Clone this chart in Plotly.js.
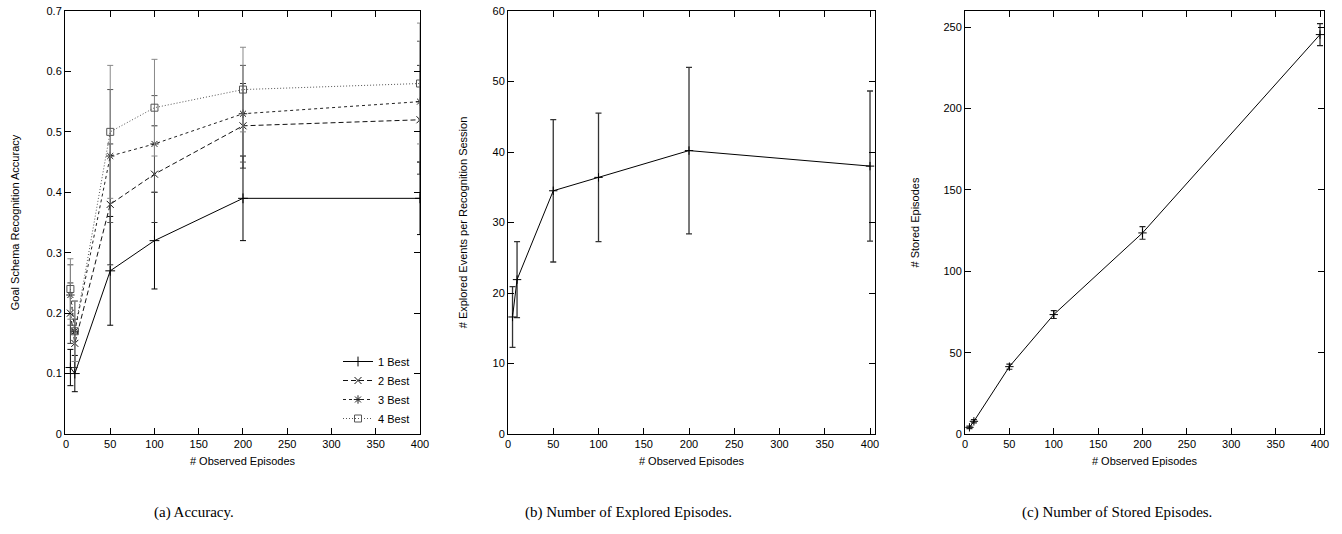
<!DOCTYPE html>
<html>
<head>
<meta charset="utf-8">
<script src="https://cdn.plot.ly/plotly-3.0.1.min.js"></script>
<style>html,body{margin:0;padding:0;background:#fff;}#chart{width:1342px;height:534px;}</style>
</head>
<body>
<div id="chart"></div>
<script>
// ---- data ----
const episodes = [5, 10, 50, 100, 200, 400];

const best1 = [0.11, 0.10, 0.27, 0.32, 0.39, 0.39];
const best1Err = [0.03, 0.03, 0.09, 0.08, 0.07, 0.06];
const best2 = [0.20, 0.15, 0.38, 0.43, 0.51, 0.52];
const best2Err = [0.05, 0.04, 0.10, 0.08, 0.07, 0.09];
const best3 = [0.23, 0.17, 0.46, 0.48, 0.53, 0.55];
const best3Err = [0.05, 0.05, 0.11, 0.08, 0.08, 0.10];
const best4 = [0.24, 0.17, 0.50, 0.54, 0.57, 0.58];
const best4Err = [0.05, 0.05, 0.11, 0.08, 0.07, 0.10];
const seriesNames = ["1 Best", "2 Best", "3 Best", "4 Best"];

const explored = [16.6, 21.9, 34.5, 36.4, 40.2, 38.0];
const exploredErr = [4.3, 5.4, 10.1, 9.1, 11.8, 10.65];

const stored = [4.1, 7.8, 41.4, 73.4, 123.6, 245.5];
const storedErr = [0.8, 1.0, 1.6, 2.4, 3.9, 6.8];

const captions = ["(a) Accuracy.", "(b) Number of Explored Episodes.", "(c) Number of Stored Episodes."];
const yTitles = ["Goal Schema Recognition Accuracy", "# Explored Events per Recognition Session", "# Stored Episodes"];
const xTitle = "# Observed Episodes";

// ---- styles ----
const W = 1342, H = 534;
const px = v => v / W;
const py = v => 1 - v / H;
const font = {family: "Liberation Sans, Arial, sans-serif", size: 11, color: "#000"};

const accSeries = [best1, best2, best3, best4];
const accErr = [best1Err, best2Err, best3Err, best4Err];
const accDash = ["solid", "5px,3px", "3px,3px", "1px,2px"];
const accColor = ["#000", "#111", "#222", "#555"];
const accErrColor = ["#000", "#333", "#555", "#888"];
const accSymbol = ["cross-thin-open", "x-thin-open", "asterisk-open", "square-open"];

const traces = [];
accSeries.forEach((ys, i) => {
  traces.push({
    type: "scatter", mode: "lines+markers", x: episodes, y: ys, name: seriesNames[i],
    xaxis: "x", yaxis: "y",
    line: {color: accColor[i], width: 1, dash: accDash[i]},
    marker: {symbol: accSymbol[i], size: 7, color: accColor[i], line: {color: accColor[i], width: 1}},
    error_y: {type: "data", array: accErr[i], visible: true, color: accErrColor[i], thickness: 1, width: 3}
  });
});
traces.push({
  type: "scatter", mode: "lines+markers", x: episodes, y: explored, showlegend: false,
  xaxis: "x2", yaxis: "y2",
  line: {color: "#000", width: 1},
  marker: {symbol: "cross-thin-open", size: 6, color: "#000", line: {color: "#000", width: 1}},
  error_y: {type: "data", array: exploredErr, visible: true, color: "#333", thickness: 1.3, width: 3}
});
traces.push({
  type: "scatter", mode: "lines+markers", x: episodes, y: stored, showlegend: false,
  xaxis: "x3", yaxis: "y3",
  line: {color: "#000", width: 1},
  marker: {symbol: "cross-thin-open", size: 6, color: "#000", line: {color: "#000", width: 1}},
  error_y: {type: "data", array: storedErr, visible: true, color: "#222", thickness: 1.2, width: 3}
});

function xAxis(dom, range, anchor) {
  return {
    domain: dom, range: range, anchor: anchor, dtick: 50, tick0: 0,
    ticks: "inside", ticklen: 6, tickcolor: "#000", mirror: "allticks",
    showline: true, linecolor: "#000", linewidth: 1, showgrid: false, zeroline: false,
    tickfont: font, title: {text: xTitle, font: font, standoff: 8}
  };
}
function yAxis(dom, range, dtick, anchor, title, standoff) {
  return {
    domain: dom, range: range, anchor: anchor, dtick: dtick, tick0: 0,
    ticks: "inside", ticklen: 6, tickcolor: "#000", mirror: "allticks",
    showline: true, linecolor: "#000", linewidth: 1, showgrid: false, zeroline: false,
    tickfont: font, title: {text: title, font: font, standoff: standoff}
  };
}
const yDom = [py(434), py(11)];
const layout = {
  width: W, height: H,
  margin: {l: 0, r: 0, t: 0, b: 0},
  paper_bgcolor: "#fff", plot_bgcolor: "#fff",
  font: font,
  showlegend: true,
  legend: {
    x: px(338), y: py(433), xanchor: "left", yanchor: "bottom",
    bgcolor: "rgba(0,0,0,0)", font: {family: font.family, size: 11, color: "#000"},
    tracegroupgap: 0, itemwidth: 30
  },
  xaxis: xAxis([px(65), px(420)], [-1.1, 400], "y"),
  yaxis: yAxis(yDom, [0, 0.7], 0.1, "x", yTitles[0], 24),
  xaxis2: xAxis([px(508), px(875)], [0, 405.5], "y2"),
  yaxis2: yAxis(yDom, [0, 60], 10, "x2", yTitles[1], 22),
  xaxis3: xAxis([px(965), px(1324)], [0, 404.5], "y3"),
  yaxis3: yAxis(yDom, [0, 260], 50, "x3", yTitles[2], 21),
  annotations: captions.map((t, i) => ({
    text: t, xref: "paper", yref: "paper",
    x: px([194, 628, 1117][i]), y: py(512), xanchor: "center", yanchor: "middle",
    showarrow: false, font: {family: "Liberation Serif, Times New Roman, serif", size: 15, color: "#000"}
  }))
};
Plotly.newPlot("chart", traces, layout, {displayModeBar: false, staticPlot: true});
</script>
</body>
</html>
